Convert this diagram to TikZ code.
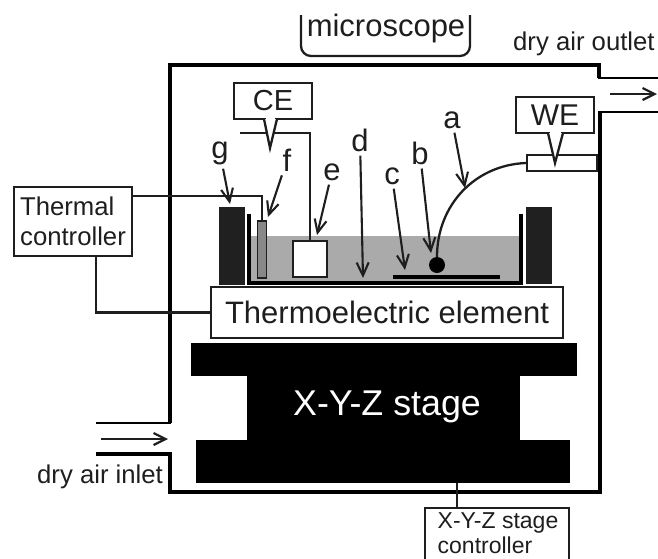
\documentclass[tikz,border=0pt]{standalone}
\usepackage{fontspec}
\setmainfont{Liberation Sans}
\usepackage{tikz}
\usetikzlibrary{arrows.meta,positioning,calc}
\definecolor{ink}{RGB}{30,30,30}
\definecolor{liquid}{RGB}{170,170,170}
\definecolor{block}{RGB}{32,32,32}

\tikzset{
  wall/.style={draw=black,line width=4.5pt,line join=miter},
  pipe/.style={draw=black,line width=2.6pt},
  wire/.style={draw=ink,line width=2.3pt},
  flow/.style={draw=ink,line width=2.2pt,-{Straight Barb[length=12pt,width=12pt,line width=2.2pt]}},
  pointer/.style={draw=ink,line width=2.1pt,-{Straight Barb[length=13pt,width=12pt,line width=2.1pt]},shorten <=1pt},
  labelbox/.style={draw=ink,line width=2.3pt,fill=white,inner sep=0pt,text=ink,align=left},
  letter/.style={text=ink,font=\fontsize{31}{31}\selectfont,inner sep=3pt},
  plain/.style={text=ink,font=\fontsize{25.7}{25.7}\selectfont,inner sep=0pt}
}

\begin{document}
\begin{tikzpicture}[x=1pt,y=-1pt]
\useasboundingbox (0,0) rectangle (658,558);
\clip (0,0) rectangle (658,558);

% chamber
\draw[wall] (96,454) -- (170,454) -- (170,492) -- (600,492) -- (600,112);
\draw[wall] (170,423) -- (170,65) -- (599,65) -- (599,78);
\draw[pipe] (96,423) -- (171,423);
\draw[pipe] (598,78) -- (658,78);
\draw[pipe] (598,112) -- (658,112);
\coordinate (inA) at (101,439);
\coordinate (inB) at (168,439);
\coordinate (outA) at (610,94);
\coordinate (outB) at (657,94);
\draw[flow] (inA) -- (inB);
\draw[flow] (outA) -- (outB);

% microscope
\draw[wire,rounded corners=10pt] (301,15) -- (301,56) -- (470,56) -- (470,15);
\node[text=ink,font=\fontsize{31}{31}\selectfont,inner sep=0pt] (scope) at (386,28) {microscope};
\node[plain,anchor=west] (outlet) at (513,44) {dry air outlet};
\node[plain,anchor=west] (inlet) at (37,477) {dry air inlet};

% cell
\fill[liquid] (250,236) rectangle (519,282);
\fill[block] (219,207) rectangle (245,285);
\fill[block] (526,207) rectangle (552,284);
\fill[black] (247,214) rectangle (251,285);
\fill[black] (519,214) rectangle (523,285);
\fill[black] (247,281) rectangle (523,285);
\fill[black] (393,275) rectangle (500,279);
\node[draw=ink,line width=1.8pt,fill=liquid!80!black,minimum width=9pt,minimum height=57pt,inner sep=0pt] (fprobe) at (262,249.5) {};
\node[draw=ink,line width=2.3pt,fill=white,minimum width=34pt,minimum height=36pt,inner sep=0pt] (ebox) at (310,259) {};
\node[circle,fill=black,minimum size=16pt,inner sep=0pt] (ball) at (437,265) {};

% boxes
\node[labelbox,minimum width=352pt,minimum height=51pt,align=center,font=\fontsize{31}{31}\selectfont] (thermo) at (387,312.5) {Thermoelectric element};
\node[labelbox,minimum width=118pt,minimum height=69pt,font=\fontsize{25.7}{30}\selectfont] (thermal) at (73,221.5) {Thermal\\controller};
\node[labelbox,minimum width=78pt,minimum height=36pt,font=\fontsize{29}{29}\selectfont] (ce) at (273,101) {CE};
\node[labelbox,minimum width=78pt,minimum height=36pt,font=\fontsize{30}{30}\selectfont] (we) at (555,115) {WE};
\node[labelbox,minimum width=70pt,minimum height=16pt] (holder) at (562,163) {};
\node[labelbox,minimum width=144pt,minimum height=90pt,anchor=north] (stagectl) at (497,507) {};
\node[text=ink,font=\fontsize{23}{25.5}\selectfont,align=left,inner sep=0pt] (stagetxt) at (498,533) {X-Y-Z stage\\controller};

% stage
\fill[black] (191,343) rectangle (577,376);
\fill[black] (247,376) rectangle (520,440);
\fill[black] (196,440) rectangle (570,483);
\node[text=white,font=\fontsize{35.8}{35.8}\selectfont,inner sep=0pt] (stage) at (387,407) {X-Y-Z stage};

% wires
\coordinate (tcout) at (262,196);
\coordinate (tcdown) at (96,313);
\coordinate (cewire) at (240,133);
\draw[wire] (thermal.east |- tcout) -| (fprobe.north);
\draw[wire] (thermal.south -| tcdown) |- (thermo.west);
\draw[wire] (cewire) -| (ebox.north);
\draw[wire] (stagectl.north -| 457,0) -- (457,483);
\draw[wire] (holder.west) .. controls (475,165) and (437,205) .. (ball);

% callouts
\draw[wire,fill=white] (264,119) -- (270,148) -- (277,119);
\draw[wire,fill=white] (548,133) -- (555,163) -- (563,133);
\fill[white] (266,117) rectangle (275,121);
\fill[white] (550,131) rectangle (561,135);

% letters
\node[letter] (la) at (452,120) {a};
\node[letter] (lb) at (420,153) {b};
\node[letter] (lc) at (392,176) {c};
\node[letter] (ld) at (360,140) {d};
\node[letter] (le) at (332,172) {e};
\node[letter] (lf) at (287,160) {f};
\node[letter] (lg) at (220,153) {g};
\coordinate (ta) at (465,188);
\coordinate (tb) at (431,253);
\coordinate (tc) at (405,270);
\coordinate (td) at (363,278);
\coordinate (te) at (317,235);
\coordinate (tf) at (268,217);
\coordinate (tg) at (230,204);
\foreach \a/\b in {la/ta,lb/tb,lc/tc,ld/td,le/te,lf/tf,lg/tg}
  \draw[pointer] (\a) -- (\b);
\end{tikzpicture}
\end{document}
